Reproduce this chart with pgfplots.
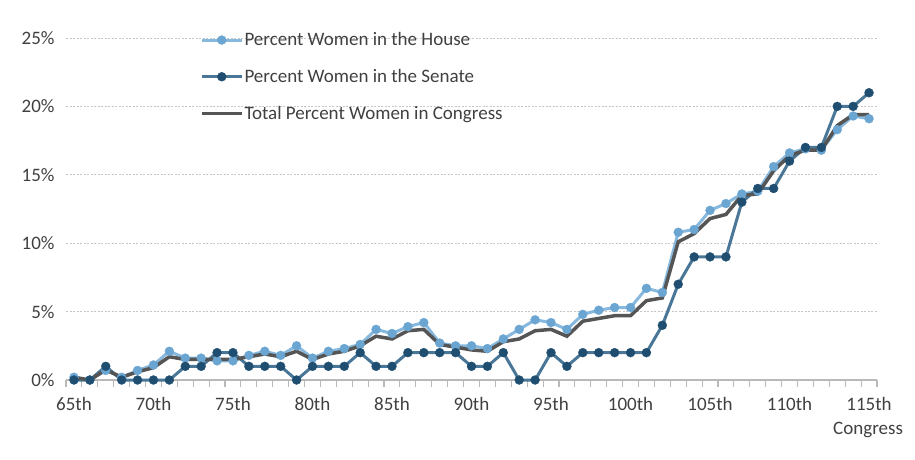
\documentclass[border=0pt]{standalone}
\usepackage{fontspec}
\setmainfont{Carlito}
\usepackage{pgfplots}
\pgfplotsset{compat=1.18}

\definecolor{houseline}{RGB}{135,184,222}
\definecolor{housemark}{RGB}{107,166,211}
\definecolor{senline}{RGB}{74,119,151}
\definecolor{senmark}{RGB}{31,78,112}
\definecolor{totline}{RGB}{85,85,85}
\definecolor{txt}{RGB}{64,64,64}
\definecolor{axisgray}{RGB}{185,185,185}

\pgfplotstableread{
cong house senate total
65 0.2 0 0.2
66 0.0 0 0.0
67 0.7 1 0.75
68 0.2 0 0.2
69 0.7 0 0.6
70 1.1 0 0.9
71 2.1 0 1.7
72 1.6 1 1.5
73 1.6 1 1.5
74 1.4 2 1.5
75 1.4 2 1.5
76 1.8 1 1.7
77 2.1 1 1.9
78 1.8 1 1.7
79 2.5 0 2.1
80 1.6 1 1.5
81 2.1 1 1.9
82 2.3 1 2.1
83 2.6 2 2.5
84 3.7 1 3.2
85 3.4 1 3.0
86 3.9 2 3.6
87 4.2 2 3.7
88 2.7 2 2.6
89 2.5 2 2.4
90 2.5 1 2.2
91 2.3 1 2.1
92 3.0 2 2.8
93 3.7 0 3.0
94 4.4 0 3.6
95 4.2 2 3.7
96 3.7 1 3.2
97 4.8 2 4.3
98 5.1 2 4.5
99 5.3 2 4.7
100 5.3 2 4.7
101 6.7 2 5.8
102 6.4 4 6.0
103 10.8 7 10.1
104 11.0 9 10.7
105 12.4 9 11.8
106 12.9 9 12.1
107 13.6 13 13.5
108 13.8 14 13.6
109 15.6 14 15.3
110 16.6 16 16.4
111 16.9 17 16.8
112 16.8 17 16.8
113 18.3 20 18.6
114 19.3 20 19.4
115 19.1 21 19.4
}\congdata

\begin{document}
\begin{tikzpicture}[x=1pt,y=1pt]
\useasboundingbox (0,0) rectangle (915,459);
\begin{axis}[
    at={(66pt,79pt)},
    anchor=south west,
    scale only axis,
    width=811pt,
    height=342pt,
    xmin=64.5, xmax=115.5,
    ymin=0, ymax=25,
    font=\fontsize{19}{22}\selectfont,
    /pgf/number format/assume math mode=true,
    axis line style={draw=none},
    xtick pos=bottom,
    ytick pos=left,
    xtick={65,70,...,115},
    xticklabels={65th,70th,75th,80th,85th,90th,95th,100th,105th,110th,115th},
    ytick={0,5,...,25},
    tick style={draw=none},
    major tick length=0pt,
    yticklabel={\pgfmathprintnumber{\tick}\%},
    ymajorgrids,
    grid style={dash pattern=on 2pt off 1.5pt, draw=black!22, line width=0.8pt},
    tick label style={text=txt},
    xticklabel style={yshift=-14pt},
    yticklabel style={xshift=-8pt},
    xlabel={Congress},
    xlabel style={at={(0.989,-0.146)}, anchor=center, text=txt},
    legend style={at={(0.165,1.019)}, anchor=north west, draw=none, fill=none,
        inner sep=0pt, row sep=20pt, text=txt,
        nodes={inner sep=1pt}},
    legend cell align=left,
    legend image code/.code={
        \draw[solid,mark repeat=2,mark phase=2,#1] plot coordinates {(0pt,0pt) (20pt,0pt) (40pt,0pt)};},
    clip=false,
]
% x axis line and category boundary tick marks
\draw[axisgray, line width=1.3pt] (axis cs:64.5,0) -- (axis cs:115.5,0);
\pgfplotsinvokeforeach{64.5,65.5,...,115.5}{
    \draw[axisgray, line width=1.1pt] (axis cs:#1,0) -- ([yshift=-7pt]axis cs:#1,0);
}
\addplot[houseline, line width=3pt, mark=*, mark size=4.5pt,
    mark options={solid, draw=housemark, fill=housemark, line width=0.3pt}]
    table[x=cong, y=house] {\congdata};
\addlegendentry{Percent Women in the House}
\addplot[senline, line width=3pt, mark=*, mark size=4.5pt,
    mark options={solid, draw=senmark, fill=senmark, line width=0.3pt}]
    table[x=cong, y=senate] {\congdata};
\addlegendentry{Percent Women in the Senate}
\addplot[totline, line width=3.5pt, mark=none]
    table[x=cong, y=total] {\congdata};
\addlegendentry{Total Percent Women in Congress}
\end{axis}
\end{tikzpicture}
\end{document}
